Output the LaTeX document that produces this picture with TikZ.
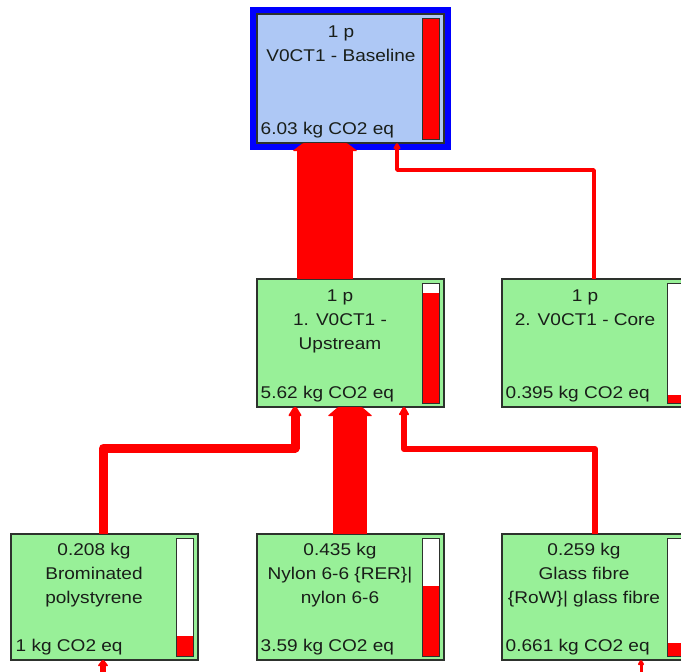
\documentclass[tikz,border=0pt]{standalone}
\usepackage{fontspec}
\setmainfont{Liberation Sans}[FakeStretch=1.12]
\usetikzlibrary{calc}
\definecolor{boxgreen}{RGB}{152,240,152}
\definecolor{boxblue}{RGB}{174,200,245}
\definecolor{txt}{RGB}{25,30,25}
\definecolor{edgegray}{RGB}{45,50,45}
\newcommand\scorebar[2]{%
  \coordinate (bt) at ([xshift=-22pt,yshift=-4pt]#1.north east);
  \coordinate (bb) at ([xshift=-5pt,yshift=4pt]#1.south east);
  \fill[white] (bt) rectangle (bb);
  \fill[red] ($(bb -| bt)!#2!(bt)$) rectangle (bb);
  \draw[edgegray, line width=1pt] (bt) rectangle (bb);
}
\newcommand\flowtip[4]{%
  \fill[red, rounded corners=1pt] ([shift={(-#2pt,-#4pt)}]#1) -- ([shift={(-#3pt,0pt)}]#1) -- ([shift={(#3pt,0pt)}]#1) -- ([shift={(#2pt,-#4pt)}]#1) -- cycle;
}
\begin{document}
\begin{tikzpicture}[x=1pt,y=-1pt,
  box/.style={draw=edgegray, line width=1.3pt, inner sep=0pt, outer sep=0pt, anchor=north west, minimum width=187pt},
  procbox/.style={box, fill=boxgreen, minimum height=126pt},
  rootbox/.style={box, fill=boxblue, minimum height=129pt},
  label/.style={text=txt, font=\fontsize{17}{24}\selectfont, inner sep=0pt},
  toptext/.style={label, align=center, anchor=north},
  scoretext/.style={label, anchor=base west},
  flow/.style={draw=red, line join=round}]

\useasboundingbox (0,0) rectangle (681,672);

% boxes
\node[rootbox] (n1) at (257,14) {};
\node[procbox, minimum height=128pt] (n2) at (257,279) {};
\node[procbox, minimum height=128pt] (n3) at (502,279) {};
\node[procbox] (n4) at (11,534) {};
\node[procbox] (n5) at (257,534) {};
\node[procbox] (n6) at (502,534) {};

% blue frame of the root
\draw[blue, line width=7pt] ([shift={(-3.5pt,3.5pt)}]n1.north west) rectangle ([shift={(3.5pt,-3.5pt)}]n1.south east);
\draw[edgegray, line width=1.3pt] (n1.north west) rectangle (n1.south east);

% score bars
\scorebar{n1}{1}
\scorebar{n2}{0.915}
\scorebar{n3}{0.066}
\scorebar{n4}{0.166}
\scorebar{n5}{0.595}
\scorebar{n6}{0.11}

% texts
\node[toptext] (n1t) at ([shift={(84pt,-12pt)}]n1.north west) {1 p\\V0CT1 - Baseline};
\node[scoretext] (n1s) at ([shift={(3.5pt,8.5pt)}]n1.south west) {6.03 kg CO2 eq};
\node[toptext] (n2t) at ([shift={(83pt,-11pt)}]n2.north west) {1 p\\1. V0CT1 -\\Upstream};
\node[scoretext] (n2s) at ([shift={(3.5pt,8.5pt)}]n2.south west) {5.62 kg CO2 eq};
\node[toptext] (n3t) at ([shift={(83pt,-11pt)}]n3.north west) {1 p\\2. V0CT1 - Core};
\node[scoretext] (n3s) at ([shift={(3.5pt,8.5pt)}]n3.south west) {0.395 kg CO2 eq};
\node[toptext] (n4t) at ([shift={(83pt,-9pt)}]n4.north west) {0.208 kg\\Brominated\\polystyrene};
\node[scoretext] (n4s) at ([shift={(4.5pt,8.5pt)}]n4.south west) {1 kg CO2 eq};
\node[toptext] (n5t) at ([shift={(83pt,-9pt)}]n5.north west) {0.435 kg\\Nylon 6-6 \{RER\}|\\nylon 6-6};
\node[scoretext] (n5s) at ([shift={(3.5pt,8.5pt)}]n5.south west) {3.59 kg CO2 eq};
\node[toptext] (n6t) at ([shift={(82pt,-9pt)}]n6.north west) {0.259 kg\\Glass fibre\\\{RoW\}| glass fibre};
\node[scoretext] (n6s) at ([shift={(3.5pt,8.5pt)}]n6.south west) {0.661 kg CO2 eq};

% connector guide coordinates
\coordinate (x1) at (325,0);
\coordinate (x2) at (350,0);
\coordinate (k3a) at (594,170);
\coordinate (k3b) at (397,170);
\coordinate (k4a) at (103.5,448);
\coordinate (k4b) at (295,448);
\coordinate (k5a) at (595,449);
\coordinate (k5b) at (404,449);
\coordinate (x4s) at (103,0);
\coordinate (x6s) at (641,0);

\coordinate (h1) at (n1.south -| x1);
\coordinate (h2) at (n2.south -| x2);
\coordinate (h3) at (n1.south -| k3b);
\coordinate (h4) at (n2.south -| k4b);
\coordinate (h5) at (n2.south -| k5b);
\coordinate (h6) at (n4.south -| x4s);
\coordinate (h7) at (n6.south -| x6s);
\coordinate (e6) at (103,672);
\coordinate (e7) at (641,672);

% connectors
\draw[flow, line width=56pt] (n2.north -| x1) -- ([yshift=-7pt]h1);
\draw[flow, line width=34pt] (n5.north -| x2) -- ([yshift=-8pt]h2);
\draw[flow, line width=3.5pt] (n3.north -| k3a) -- (k3a) -- (k3b) -- ([yshift=-5pt]h3);
\draw[flow, line width=9pt] (n4.north -| k4a) -- (k4a) -- (k4b) -- ([yshift=-8pt]h4);
\draw[flow, line width=6pt] (n6.north -| k5a) -- (k5a) -- (k5b) -- ([yshift=-7pt]h5);
\draw[flow, line width=6pt] ([yshift=-5pt]h6) -- (e6);
\draw[flow, line width=3pt] ([yshift=-4pt]h7) -- (e7);

% arrow tips
\flowtip{h1}{32.5}{22}{8}
\flowtip{h2}{22.5}{12}{9}
\flowtip{h3}{4}{0.8}{6}
\flowtip{h4}{7}{1.5}{9}
\flowtip{h5}{5.5}{1}{8}
\flowtip{h6}{5.5}{1}{6}
\flowtip{h7}{3.5}{0.8}{5}
\end{tikzpicture}
\end{document}
